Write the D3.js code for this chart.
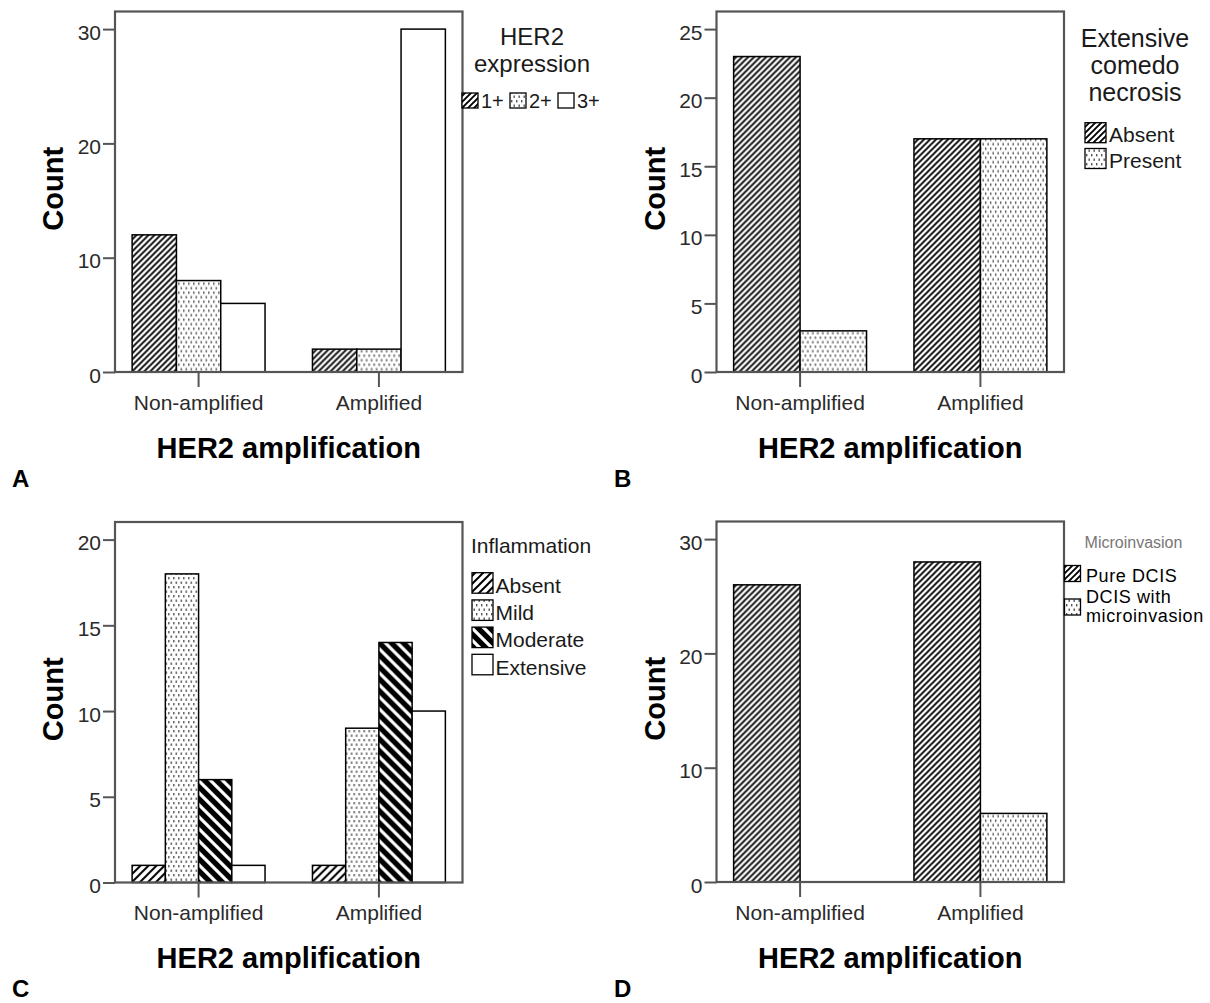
<!DOCTYPE html>
<html><head><meta charset="utf-8">
<script src="https://cdn.jsdelivr.net/npm/d3@7"></script>
<style>
body{margin:0;background:#fff}
svg{display:block}
text{font-family:"Liberation Sans",Arial,Helvetica,sans-serif}
</style>
</head><body>
<svg id="chart" width="1210" height="1003"></svg>
<script>
// ---------------- data ----------------
const categories = ["Non-amplified", "Amplified"];

const seriesA = ["1+", "2+", "3+"];
const countsA = [[12, 8, 6], [2, 2, 30]];
const yTicksA = [0, 10, 20, 30];
const legendTitleA = ["HER2", "expression"];

const seriesB = ["Absent", "Present"];
const countsB = [[23, 3], [17, 17]];
const yTicksB = [0, 5, 10, 15, 20, 25];
const legendTitleB = ["Extensive", "comedo", "necrosis"];

const seriesC = ["Absent", "Mild", "Moderate", "Extensive"];
const countsC = [[1, 18, 6, 1], [1, 9, 14, 10]];
const yTicksC = [0, 5, 10, 15, 20];
const legendTitleC = ["Inflammation"];

const seriesD = ["Pure DCIS", "DCIS with microinvasion"];
const countsD = [[26, 0], [28, 6]];
const yTicksD = [0, 10, 20, 30];
const legendTitleD = ["Microinvasion"];

const xTitle = "HER2 amplification";
const yTitle = "Count";
const panelLetters = ["A", "B", "C", "D"];

// ---------------- drawing ----------------
const svg = d3.select("#chart");
const defs = svg.append("defs");

function hatch(id, p, sw) {
  const pt = defs.append("pattern").attr("id", id).attr("patternUnits", "userSpaceOnUse")
    .attr("width", p).attr("height", p);
  pt.append("rect").attr("width", p).attr("height", p).attr("fill", "#fff");
  pt.append("path").attr("d", `M-1,1 L1,-1 M0,${p} L${p},0 M${p-1},${p+1} L${p+1},${p-1}`)
    .attr("stroke", "#000").attr("stroke-width", sw);
}
hatch("hatch6", 6, 1.9);
hatch("hatch8", 8, 2);
{
  const pt = defs.append("pattern").attr("id", "dots").attr("patternUnits", "userSpaceOnUse")
    .attr("width", 5).attr("height", 9);
  pt.append("rect").attr("width", 5).attr("height", 9).attr("fill", "#fff");
  pt.append("rect").attr("x", 1).attr("y", 1).attr("width", 1.4).attr("height", 2.4).attr("fill", "#555");
  pt.append("rect").attr("x", 3.5).attr("y", 5.5).attr("width", 1.4).attr("height", 2.4).attr("fill", "#555");
}
{
  const p = 12;
  const pt = defs.append("pattern").attr("id", "moderate").attr("patternUnits", "userSpaceOnUse")
    .attr("width", p).attr("height", p);
  pt.append("rect").attr("width", p).attr("height", p).attr("fill", "#000");
  pt.append("path").attr("d", `M0,0 L${p},${p} M${-p/2},${p/2} L${p/2},${p*1.5} M${p/2},${-p/2} L${p*1.5},${p/2}`)
    .attr("stroke", "#fff").attr("stroke-width", 3.2);
}

const FRAME = "#555";
const W = 347.5, H = 360.5;

function panel(cfg) {
  const g = svg.append("g").attr("transform", `translate(${cfg.left},${cfg.top})`);
  const y = d3.scaleLinear().domain([0, d3.max(cfg.ticks)]).range([H, 17.6]);
  const x0 = d3.scaleBand().domain(categories).range([0, W]).paddingInner(0.263).paddingOuter(0.095);
  const x1 = d3.scaleBand().domain(cfg.series).range([0, x0.bandwidth()]);

  categories.forEach((c, i) => {
    const bars = cfg.series.map((s, j) => ({ s, v: cfg.counts[i][j] })).filter(d => d.v > 0);
    g.append("g").attr("transform", `translate(${x0(c)},0)`)
      .selectAll("rect").data(bars).join("rect")
      .attr("x", d => x1(d.s)).attr("width", x1.bandwidth())
      .attr("y", d => y(d.v)).attr("height", d => H - y(d.v))
      .attr("fill", d => cfg.fills[d.s]).attr("stroke", "#000").attr("stroke-width", 1.5);
  });

  // frame
  g.append("rect").attr("width", W).attr("height", H).attr("fill", "none")
    .attr("stroke", FRAME).attr("stroke-width", 2.2);

  // y axis
  const ya = g.append("g").call(d3.axisLeft(y).tickValues(cfg.ticks).tickSize(12).tickPadding(2).tickFormat(d3.format("d")));
  ya.select(".domain").remove();
  ya.selectAll("line").attr("stroke", FRAME).attr("stroke-width", 2);
  ya.selectAll("text").attr("font-size", 21).attr("fill", "#2a2a2a").attr("dy", "0.48em")
    .attr("font-family", '"Liberation Sans",Arial,sans-serif');

  // x axis
  const xa = g.append("g").attr("transform", `translate(0,${H})`)
    .call(d3.axisBottom(x0).tickSize(15).tickPadding(8));
  xa.select(".domain").remove();
  xa.selectAll("line").attr("stroke", FRAME).attr("stroke-width", 2);
  xa.selectAll("text").attr("font-size", 21).attr("fill", "#2a2a2a")
    .attr("font-family", '"Liberation Sans",Arial,sans-serif');

  // titles
  g.append("text").attr("transform", `translate(-52,${H / 2 - 3}) rotate(-90)`)
    .attr("text-anchor", "middle").attr("font-size", 29).attr("font-weight", "bold").text(yTitle);
  g.append("text").attr("x", W / 2).attr("y", H + 85.5)
    .attr("text-anchor", "middle").attr("font-size", 29).attr("font-weight", "bold").text(xTitle);

  // panel letter
  g.append("text").attr("x", cfg.letterX - cfg.left).attr("y", cfg.letterY - cfg.top)
    .attr("font-size", 24).attr("font-weight", "bold").text(cfg.letter);
  return g;
}

function swatch(x, y, w, h, fill) {
  svg.append("rect").attr("x", x).attr("y", y).attr("width", w).attr("height", h)
    .attr("fill", fill).attr("stroke", "#000").attr("stroke-width", 1.3);
}
function label(x, y, t, size, opts = {}) {
  return svg.append("text").attr("x", x).attr("y", y).attr("font-size", size)
    .attr("text-anchor", opts.anchor || "start").attr("fill", opts.fill || "#1a1a1a").text(t);
}

// ---- Panel A ----
const fillsA = { "1+": "url(#hatch6)", "2+": "url(#dots)", "3+": "#fff" };
panel({ left: 115, top: 11.5, series: seriesA, counts: countsA, ticks: yTicksA, fills: fillsA,
  letter: panelLetters[0], letterX: 12, letterY: 487 });
legendTitleA.forEach((t, i) => label(532, 45 + i * 27, t, 24, { anchor: "middle" }));
seriesA.forEach((s, i) => {
  swatch(462 + i * 48, 93, 16, 15, fillsA[s]);
  label(481 + i * 48, 108, s, 20);
});

// ---- Panel B ----
const fillsB = { "Absent": "url(#hatch6)", "Present": "url(#dots)" };
panel({ left: 716.5, top: 11.5, series: seriesB, counts: countsB, ticks: yTicksB, fills: fillsB,
  letter: panelLetters[1], letterX: 614, letterY: 487 });
legendTitleB.forEach((t, i) => label(1135, 46.7 + i * 27, t, 25, { anchor: "middle" }));
seriesB.forEach((s, i) => {
  swatch(1085, 122.7 + i * 25.8, 21, 20, fillsB[s]);
  label(1109, 141.7 + i * 25.8, s, 21);
});

// ---- Panel C ----
const fillsC = { "Absent": "url(#hatch8)", "Mild": "url(#dots)", "Moderate": "url(#moderate)", "Extensive": "#fff" };
panel({ left: 115, top: 522, series: seriesC, counts: countsC, ticks: yTicksC, fills: fillsC,
  letter: panelLetters[2], letterX: 12, letterY: 997 });
legendTitleC.forEach((t) => label(531, 553, t, 21, { anchor: "middle" }));
seriesC.forEach((s, i) => {
  swatch(472, 572.7 + i * 27.2, 21, 20.5, fillsC[s]);
  label(495.5, 593 + i * 27.2, s, 21);
});

// ---- Panel D ----
const fillsD = { "Pure DCIS": "url(#hatch6)", "DCIS with microinvasion": "url(#dots)" };
panel({ left: 716.5, top: 521.5, series: seriesD, counts: countsD, ticks: yTicksD, fills: fillsD,
  letter: panelLetters[3], letterX: 614, letterY: 997 });
legendTitleD.forEach((t) => label(1133.5, 548, t, 16, { anchor: "middle", fill: "#777" }));
swatch(1064.5, 565.5, 16, 16, fillsD[seriesD[0]]);
label(1086, 581.7, seriesD[0], 18).attr("letter-spacing", 0.6).attr("fill", "#000");
swatch(1064.5, 599, 16, 16, fillsD[seriesD[1]]);
{
  const t = svg.append("text").attr("font-size", 18).attr("fill", "#000").attr("letter-spacing", 0.6);
  const words = seriesD[1].split(" ");
  t.append("tspan").attr("x", 1086).attr("y", 603.3).text(words.slice(0, 2).join(" "));
  t.append("tspan").attr("x", 1086).attr("y", 621.7).text(words.slice(2).join(" "));
}
</script>
</body></html>
